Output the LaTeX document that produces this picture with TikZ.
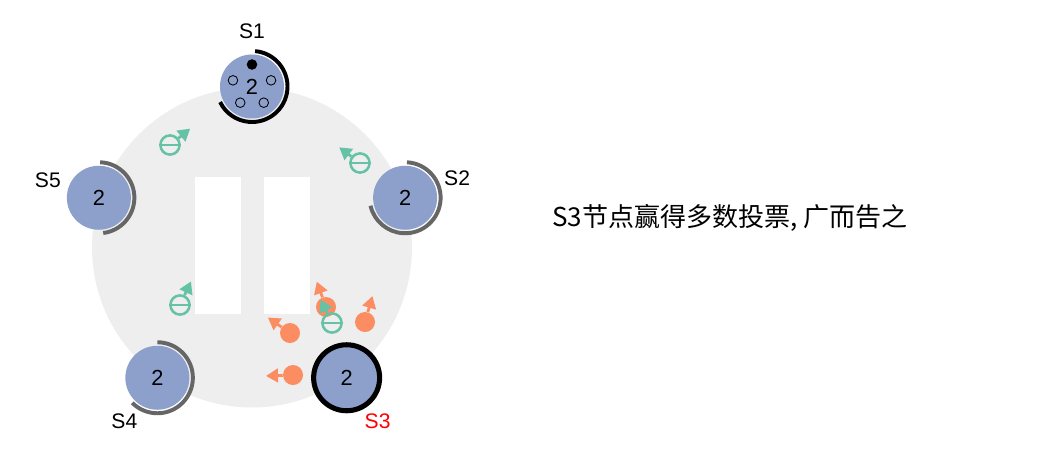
\documentclass[tikz,border=0pt]{standalone}
\usepackage{fontspec}
\setmainfont{Liberation Sans}
\newfontfamily\cjk{Noto Sans CJK SC}
\usetikzlibrary{calc,arrows.meta}
\definecolor{srvBlue}{RGB}{141,160,203}
\definecolor{ringGray}{RGB}{238,238,238}
\definecolor{timerGray}{RGB}{102,102,102}
\definecolor{voteGreen}{RGB}{102,194,165}
\definecolor{ackOrange}{RGB}{252,141,98}
\tikzset{
  server/.style={circle,fill=srvBlue,minimum size=1.6cm,inner sep=0pt,
                 font=\fontsize{15.5}{15.5}\selectfont},
  srvname/.style={inner sep=0pt,font=\fontsize{15}{15}\selectfont},
  timer/.style={timerGray,line width=2.8pt},
  leadtimer/.style={black,line width=2.8pt},
  peer/.style={circle,draw=black,line width=0.6pt,minimum size=0.24cm,inner sep=0pt},
  votemsg/.style={circle,draw=voteGreen,line width=1.8pt,minimum size=0.48cm,inner sep=0pt},
  ackmsg/.style={circle,fill=ackOrange,minimum size=0.5cm,inner sep=0pt},
  msgarrow/.style={line width=2pt,-{Triangle[length=0.3cm,width=0.34cm]}}
}
\begin{document}
\begin{tikzpicture}[x=0.025cm,y=0.025cm]
\useasboundingbox (0,0) rectangle (1040,450);
% ring and the two gaps
\coordinate (ctr) at (252,202.5);
\fill[ringGray] (ctr) circle[radius=160];
\fill[white] (195,136) rectangle (241,273);
\fill[white] (264,136) rectangle (310,273);
% servers
\foreach \n/\a in {1/90,2/18,3/-54,4/-126,5/162}
  \node[server] (s\n) at ($(ctr)+(\a:161)$) {2};
\draw[black,line width=3.6pt] (s3.center) circle[radius=33];
% election timers
\draw[leadtimer] ($(s1)+(85:35.5)$) arc[start angle=85,end angle=-154,radius=35.5];
\draw[timer] ($(s2)+(87:35.5)$) arc[start angle=87,end angle=-167,radius=35.5];
\draw[timer] ($(s4)+(90:35.5)$) arc[start angle=90,end angle=-135,radius=35.5];
\draw[timer] ($(s5)+(88:35.5)$) arc[start angle=88,end angle=-83,radius=35.5];
% votes held by S1
\node[peer,fill=black] (p1) at ($(s1)+(90:22)$) {};
\foreach \a [count=\i from 2] in {18,-54,-126,162}
  \node[peer] (p\i) at ($(s1)+(\a:20)$) {};
% names
\node[srvname] (n1) at ($(s1)+(0,55)$) {S1};
\node[srvname] (n2) at ($(s2)+(52,20)$) {S2};
\node[srvname,red] (n3) at ($(s3)+(31,-43)$) {S3};
\node[srvname] (n4) at ($(s4)+(-33,-43)$) {S4};
\node[srvname] (n5) at ($(s5)+(-51,18)$) {S5};
% vote replies
\foreach \x/\y/\a [count=\i] in {326/143/110,365/128/74,290/117/145,293/75/182}{
  \node[ackmsg] (a\i) at (\x,\y) {};
  \coordinate (at\i) at ($(a\i)+(\a:27)$);
  \draw[msgarrow,ackOrange] (a\i) -- (at\i);
}
% vote requests
\foreach \x/\y/\a [count=\i] in {170/305/39,360/287/143,180/145/65,332/127/116}{
  \node[votemsg] (v\i) at (\x,\y) {};
  \draw[voteGreen,line width=1.8pt] (v\i.west) -- (v\i.east);
  \coordinate (vt\i) at ($(v\i)+(\a:26)$);
  \draw[msgarrow,voteGreen] (v\i) -- (vt\i);
}
\node[anchor=west,inner sep=0pt,font=\cjk\fontsize{18.5}{18.5}\selectfont] (caption) at (552,232) {S3节点赢得多数投票, 广而告之};
\end{tikzpicture}
\end{document}
